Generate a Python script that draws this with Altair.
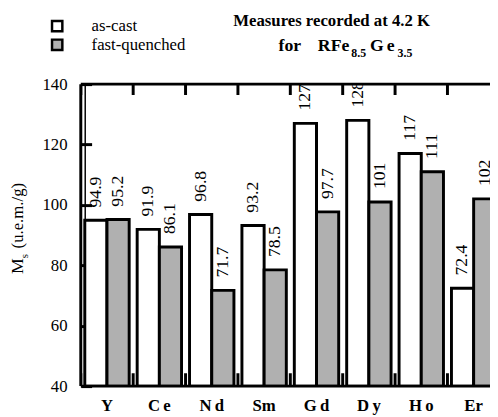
import altair as alt
import pandas as pd

# ---------------- data ----------------
CATEGORIES = ["Y", "Ce", "Nd", "Sm", "Gd", "Dy", "Ho", "Er"]
SERIES = ["as-cast", "fast-quenched"]
AS_CAST = [94.9, 91.9, 96.8, 93.2, 127, 128, 117, 72.4]
FAST_QUENCHED = [95.2, 86.1, 71.7, 78.5, 97.7, 101, 111, 102]
Y_TICKS = [40, 60, 80, 100, 120, 140]
Y_MIN, Y_MAX = 40, 140
SPACED_LABELS = ["Ce", "Nd", "Gd", "Dy", "Ho"]

rows = []
for i, c in enumerate(CATEGORIES):
    for s, vals in zip(SERIES, [AS_CAST, FAST_QUENCHED]):
        rows.append({"cat": c, "series": s, "value": vals[i], "label": str(vals[i])})
df = pd.DataFrame(rows)
cats_df = pd.DataFrame({"cat": CATEGORIES})
ONE = pd.DataFrame({"k": [0]})

# ---------------- style ----------------
W, H = 416, 307
FONT = "'Liberation Serif', 'Times New Roman', Tinos, serif"
FILLS = ["white", "#b0b0b0"]

xscale = alt.Scale(domain=CATEGORIES, range=[0, 426], paddingInner=0, paddingOuter=0)
spaced = "['" + "','".join(SPACED_LABELS) + "']"
x_axis = alt.Axis(
    title=None, ticks=False, domain=False, labelFont=FONT, labelFontSize=17,
    labelFontWeight="bold", labelColor="black", labelPadding=12, labelAngle=0,
    labelExpr=f"indexof({spaced}, datum.label) >= 0 ? substring(datum.label,0,1) + '\u2009' + substring(datum.label,1) : datum.label",
)
X = alt.X("cat:N", scale=xscale, sort=CATEGORIES, axis=x_axis)
XOFF = alt.XOffset("series:N", sort=SERIES,
                   scale=alt.Scale(domain=SERIES, paddingInner=0, paddingOuter=0.18))
yscale = alt.Scale(domain=[Y_MIN, Y_MAX], zero=False, nice=False)
y_axis = alt.Axis(values=Y_TICKS, offset=-11, tickSize=11, tickWidth=3, tickColor="black",
                  domain=False, grid=False, labelFont=FONT, labelFontSize=17,
                  labelColor="black", labelPadding=14, title=None)

bars = alt.Chart(df).mark_bar(stroke="black", strokeWidth=3, clip=True).encode(
    x=X, xOffset=XOFF,
    y=alt.Y("value:Q", scale=yscale, axis=y_axis),
    y2=alt.datum(Y_MIN),
    fill=alt.Fill("series:N", scale=alt.Scale(domain=SERIES, range=FILLS), legend=None),
)

labels = alt.Chart(df).mark_text(angle=270, align="left", baseline="middle", dx=13,
                                 font=FONT, fontSize=18, color="black", clip=True).encode(
    x=X, xOffset=XOFF,
    y=alt.Y("value:Q", scale=yscale, axis=y_axis),
    text="label:N",
)

XB = alt.X("cat:N", scale=xscale, sort=CATEGORIES, axis=x_axis, bandPosition=0)
top_ticks = alt.Chart(cats_df).mark_rule(color="black", strokeWidth=3, clip=True).encode(
    x=XB, y=alt.value(0), y2=alt.value(11))
bottom_ticks = alt.Chart(cats_df).mark_rule(color="black", strokeWidth=3, clip=True).encode(
    x=XB, y=alt.value(H), y2=alt.value(H - 13))

left1 = alt.Chart(ONE).mark_rule(color="black", strokeWidth=3).encode(
    x=alt.value(0), y=alt.value(0), y2=alt.value(H))
left2 = alt.Chart(ONE).mark_rule(color="black", strokeWidth=1.5).encode(
    x=alt.value(4.5), y=alt.value(0), y2=alt.value(H))
top_b = alt.Chart(ONE).mark_rule(color="black", strokeWidth=3).encode(
    x=alt.value(0), x2=alt.value(W), y=alt.value(0))
bot_b = alt.Chart(ONE).mark_rule(color="black", strokeWidth=3).encode(
    x=alt.value(0), x2=alt.value(W), y=alt.value(H))

layers = [bars, labels, top_ticks, bottom_ticks, left1, left2, top_b, bot_b]

# legend
for i, s in enumerate(SERIES):
    layers.append(alt.Chart(ONE).mark_point(shape="square", filled=True, size=110,
                                            fill=FILLS[i], stroke="black", strokeWidth=2.5,
                                            opacity=1).encode(
        x=alt.value(-24), y=alt.value(-59 + 19 * i)))
    layers.append(alt.Chart(ONE).mark_text(align="left", baseline="middle", font=FONT,
                                           fontSize=17, color="black", text=s).encode(
        x=alt.value(11), y=alt.value(-59 + 19 * i)))

# title
layers.append(alt.Chart(ONE).mark_text(align="center", baseline="middle", font=FONT,
                                       fontSize=17, fontWeight="bold", color="black",
                                       text="Measures recorded at 4.2 K").encode(
    x=alt.value(255), y=alt.value(-64)))
for txt, xp, sub in [("for", 201, False), ("RFe", 241, False), ("8.5", 275, True),
                     ("G", 294, False), ("e", 311, False), ("3.5", 322, True)]:
    layers.append(alt.Chart(ONE).mark_text(align="left", baseline="alphabetic", font=FONT,
                                           fontSize=12 if sub else 18, fontWeight="bold",
                                           color="black", text=txt).encode(
        x=alt.value(xp), y=alt.value(-28 if sub else -34)))

# y title (rotated)
for txt, xp, yp, fs in [("M", -64, 193, 18), ("s", -57, 177, 11), ("(u.e.m./g)", -64, 167, 17)]:
    layers.append(alt.Chart(ONE).mark_text(angle=270, align="left", baseline="middle",
                                           font=FONT, fontSize=fs, color="black", text=txt).encode(
        x=alt.value(xp), y=alt.value(yp)))

chart = alt.layer(*layers).properties(
    width=W, height=H,
    autosize=alt.AutoSizeParams(type="none"),
    padding={"left": 74, "top": 74, "right": 0, "bottom": 28},
).configure_view(stroke=None)

chart.save("out.html", embed_options={"renderer": "svg", "actions": False})
